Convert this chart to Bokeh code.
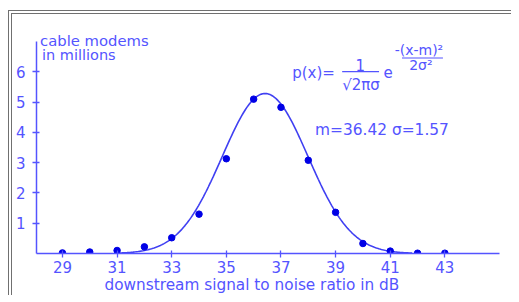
import numpy as np
from bokeh.plotting import figure
from bokeh.models import Label, FixedTicker, ColumnDataSource, Title
from bokeh.embed import file_html
from bokeh.resources import INLINE

# ---- data ----
snr_db = [29, 30, 31, 32, 33, 34, 35, 36, 37, 38, 39, 40, 41, 42, 43]
modems_millions = [0.02, 0.05, 0.10, 0.22, 0.52, 1.30, 3.13, 5.10, 4.83, 3.08, 1.36, 0.33, 0.08, 0.01, 0.01]
x_ticks = [29, 31, 33, 35, 37, 39, 41, 43]
y_ticks = [1, 2, 3, 4, 5, 6]
fit_mean = 36.42
fit_sigma = 1.57
fit_total = 20.8          # scale of fitted curve (millions), read from peak height
curve_from, curve_to = 31.0, 41.8

TEXT = "#5454ff"
CURVE = "#4040f2"
POINT = "#0000e6"
FONT = "DejaVu Sans"

p = figure(width=503, height=285, x_range=(28.05, 45.0), y_range=(0, 7.5),
           output_backend="svg", toolbar_location=None,
           min_border_left=24, min_border_right=16, min_border_top=12, min_border_bottom=46,
           styles={"margin-left": "8px", "margin-top": "10px",
                   "border-top": "4px double #707070", "border-left": "4px double #707070"})
p.xgrid.visible = False
p.ygrid.visible = False
p.outline_line_color = None
p.background_fill_color = "white"
p.border_fill_color = "white"

for ax in (p.xaxis[0], p.yaxis[0]):
    ax.axis_line_color = TEXT
    ax.axis_line_width = 1.5
    ax.major_tick_line_color = TEXT
    ax.major_tick_line_width = 1.3
    ax.minor_tick_line_color = None
    ax.major_tick_in = 3
    ax.major_tick_out = 4
    ax.major_label_text_color = TEXT
    ax.major_label_text_font = FONT
    ax.major_label_text_font_size = "15px"
p.xaxis.ticker = FixedTicker(ticks=x_ticks)
p.yaxis.ticker = FixedTicker(ticks=y_ticks)
p.yaxis.bounds = (0, 7)
p.xaxis.major_label_standoff = 3
p.yaxis.major_label_standoff = 7

p.add_layout(Title(text="downstream signal to noise ratio in dB", align="left", offset=68,
                   standoff=-3, text_font=FONT, text_font_size="15.3px",
                   text_font_style="normal", text_color=TEXT), "below")

# fitted gaussian
xs = np.linspace(curve_from, curve_to, 240)
ys = fit_total / (fit_sigma * np.sqrt(2 * np.pi)) * np.exp(-(xs - fit_mean) ** 2 / (2 * fit_sigma ** 2))
p.line(xs, ys, line_color=CURVE, line_width=1.6)

src = ColumnDataSource(dict(x=snr_db, y=modems_millions))
p.scatter("x", "y", source=src, size=6.5, fill_color=POINT, line_color=POINT)

def lab(x, y, text, size="14.5px", align="left", baseline="middle"):
    p.add_layout(Label(x=x, y=y, text=text, text_font=FONT, text_font_size=size,
                       text_color=TEXT, text_align=align, text_baseline=baseline))

lab(28.18, 7.05, "cable modems", size="14.8px")
lab(28.25, 6.57, "in millions", size="14.5px")

# formula
lab(37.41, 5.98, "p(x)=", size="15px")
lab(39.90, 6.22, "1", size="15px", align="center")
p.line([39.24, 40.59], [6.01, 6.01], line_color=TEXT, line_width=1.3)
lab(39.93, 5.58, "√2πσ", size="15px", align="center")
lab(40.92, 5.99, "e", size="15px", align="center")
lab(42.05, 6.72, "-(x-m)²", size="14px", align="center")
p.line([41.43, 42.93], [6.46, 6.46], line_color=TEXT, line_width=1.2)
lab(42.12, 6.24, "2σ²", size="14px", align="center")
lab(38.25, 4.09, "m=36.42 σ=1.57", size="15.4px")

open("out.html", "w").write(file_html(p, INLINE))
